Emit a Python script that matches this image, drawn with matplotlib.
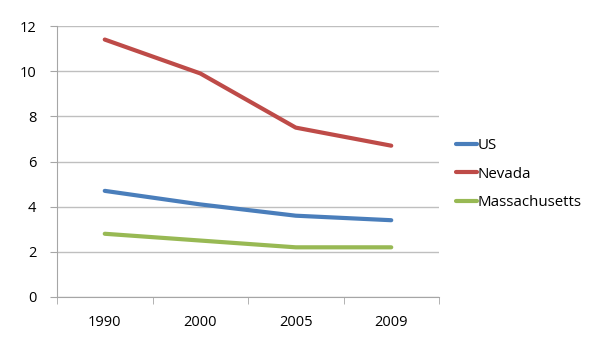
import numpy as np
import matplotlib.pyplot as plt

plt.rcParams['font.family'] = ['Open Sans', 'DejaVu Sans']

years = ['1990', '2000', '2005', '2009']
us = [4.7, 4.1, 3.6, 3.4]
nevada = [11.4, 9.9, 7.5, 6.7]
massachusetts = [2.8, 2.5, 2.2, 2.2]

series = [('US', us, '#4A7EBB'),
          ('Nevada', nevada, '#BE4B48'),
          ('Massachusetts', massachusetts, '#98B954')]

fig = plt.figure(figsize=(6, 3.48), dpi=100)
ax = fig.add_axes([57 / 600, 51 / 348, 382 / 600, 271 / 348])

x = np.arange(len(years))
for name, vals, color in series:
    ax.plot(x, vals, color=color, lw=3, solid_capstyle='round',
            solid_joinstyle='round', label=name)

ax.set_xlim(-0.5, len(years) - 0.5)
ax.set_ylim(0, 12)
ax.set_yticks(range(0, 13, 2))
ax.set_xticks(x)
ax.set_xticklabels(years)
ax.set_xticks(np.arange(-0.5, len(years), 1), minor=True)

ax.grid(axis='y', color='#BFBFBF', lw=1)
ax.set_axisbelow(True)
for side in ['top', 'right']:
    ax.spines[side].set_visible(False)
for side in ['left', 'bottom']:
    ax.spines[side].set_color('#A6A6A6')

ax.tick_params(axis='x', which='major', length=0, pad=13, labelsize=10.5)
ax.tick_params(axis='x', which='minor', length=5, color='#A6A6A6', direction='out')
ax.tick_params(axis='y', length=5, color='#A6A6A6', pad=10, labelsize=10.5)

fig.legend(loc='upper left', bbox_to_anchor=(450 / 600, 1 - 132 / 348),
           frameon=False, handlelength=1.4, handletextpad=0.05,
           labelspacing=0.9, fontsize=10.8, borderaxespad=0)

fig.savefig('out.png', dpi=100)
